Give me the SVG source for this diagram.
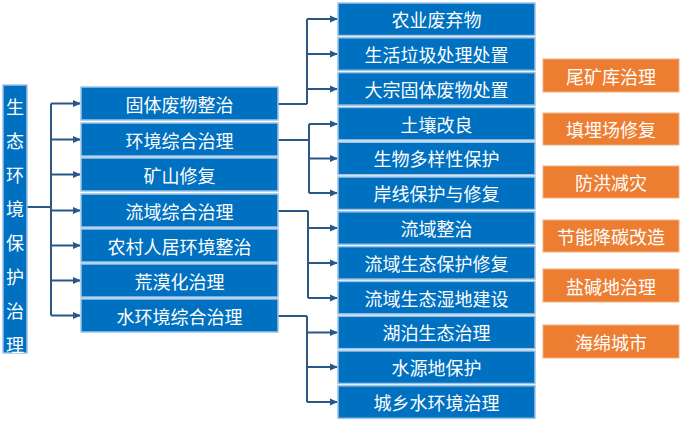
<svg xmlns="http://www.w3.org/2000/svg" width="682" height="424" viewBox="0 0 682 424">
<style>
.b{fill:#0070C0;stroke:#9DC3E6;stroke-width:1.5}
.o{fill:#ED7D31;stroke:#F4B183;stroke-width:1}
.t{fill:#fff;font-family:"Noto Sans CJK SC","Noto Sans CJK JP",sans-serif;font-size:18px;text-anchor:middle;dominant-baseline:central}
.c{fill:none;stroke:#2B5787;stroke-width:2}
.a{fill:none;stroke:#2B5787;stroke-width:2;marker-end:url(#ah)}
</style>
<defs>
<marker id="ah" markerWidth="8" markerHeight="8" refX="7" refY="4" orient="auto" markerUnits="userSpaceOnUse">
<path d="M0,0.5 L8,4 L0,7.5 Z" fill="#2B5787"/>
</marker>
</defs>
<rect width="682" height="424" fill="#fff"/>
<g id="connectors">
<path class="c" d="M27,207 H51 M51,103.5 V315.5"/>
<path class="a" d="M51,103.5 H80"/>
<path class="a" d="M51,139.5 H80"/>
<path class="a" d="M51,174.5 H80"/>
<path class="a" d="M51,210.5 H80"/>
<path class="a" d="M51,245.5 H80"/>
<path class="a" d="M51,280.5 H80"/>
<path class="a" d="M51,315.5 H80"/>
<path class="c" d="M278,104 H307 M307,19 V104"/>
<path class="a" d="M307,19 H337"/>
<path class="a" d="M307,54 H337"/>
<path class="a" d="M307,89 H337"/>
<path class="c" d="M278,140 H309 M309,124 V193"/>
<path class="a" d="M309,124 H337"/>
<path class="a" d="M309,158.5 H337"/>
<path class="a" d="M309,193 H337"/>
<path class="c" d="M278,211 H308 M308,211 V298"/>
<path class="a" d="M308,228 H337"/>
<path class="a" d="M308,263 H337"/>
<path class="a" d="M308,298 H337"/>
<path class="c" d="M278,316 H307 M307,316 V402"/>
<path class="a" d="M307,332.5 H337"/>
<path class="a" d="M307,367 H337"/>
<path class="a" d="M307,402 H337"/>
</g>
<g id="root">
<rect class="b" x="3" y="85" width="24" height="268"/>
<text class="t" x="15" y="106">生</text>
<text class="t" x="15" y="140">态</text>
<text class="t" x="15" y="174">环</text>
<text class="t" x="15" y="208">境</text>
<text class="t" x="15" y="242">保</text>
<text class="t" x="15" y="276">护</text>
<text class="t" x="15" y="310">治</text>
<text class="t" x="15" y="344">理</text>
</g>
<g id="m1"><rect class="b" x="81" y="87" width="197" height="33"/><text class="t" x="179.5" y="103.5">固体废物整治</text></g>
<g id="m2"><rect class="b" x="81" y="123" width="197" height="33"/><text class="t" x="179.5" y="139.5">环境综合治理</text></g>
<g id="m3"><rect class="b" x="81" y="158" width="197" height="33"/><text class="t" x="179.5" y="174.5">矿山修复</text></g>
<g id="m4"><rect class="b" x="81" y="194" width="197" height="33"/><text class="t" x="179.5" y="210.5">流域综合治理</text></g>
<g id="m5"><rect class="b" x="81" y="229" width="197" height="33"/><text class="t" x="179.5" y="245.5">农村人居环境整治</text></g>
<g id="m6"><rect class="b" x="81" y="264" width="197" height="33"/><text class="t" x="179.5" y="280.5">荒漠化治理</text></g>
<g id="m7"><rect class="b" x="81" y="299" width="197" height="33"/><text class="t" x="179.5" y="315.5">水环境综合治理</text></g>
<g id="r1"><rect class="b" x="338" y="3" width="197" height="32.5"/><text class="t" x="436.5" y="19.2">农业废弃物</text></g>
<g id="r2"><rect class="b" x="338" y="37.8" width="197" height="32.5"/><text class="t" x="436.5" y="54">生活垃圾处理处置</text></g>
<g id="r3"><rect class="b" x="338" y="72.6" width="197" height="32.5"/><text class="t" x="436.5" y="88.8">大宗固体废物处置</text></g>
<g id="r4"><rect class="b" x="338" y="107.4" width="197" height="32.5"/><text class="t" x="436.5" y="123.6">土壤改良</text></g>
<g id="r5"><rect class="b" x="338" y="142.2" width="197" height="32.5"/><text class="t" x="436.5" y="158.4">生物多样性保护</text></g>
<g id="r6"><rect class="b" x="338" y="177" width="197" height="32.5"/><text class="t" x="436.5" y="193.2">岸线保护与修复</text></g>
<g id="r7"><rect class="b" x="338" y="211.8" width="197" height="32.5"/><text class="t" x="436.5" y="228">流域整治</text></g>
<g id="r8"><rect class="b" x="338" y="246.6" width="197" height="32.5"/><text class="t" x="436.5" y="262.8">流域生态保护修复</text></g>
<g id="r9"><rect class="b" x="338" y="281.4" width="197" height="32.5"/><text class="t" x="436.5" y="297.6">流域生态湿地建设</text></g>
<g id="r10"><rect class="b" x="338" y="316.2" width="197" height="32.5"/><text class="t" x="436.5" y="332.4">湖泊生态治理</text></g>
<g id="r11"><rect class="b" x="338" y="351" width="197" height="32.5"/><text class="t" x="436.5" y="367.2">水源地保护</text></g>
<g id="r12"><rect class="b" x="338" y="385.8" width="197" height="32.5"/><text class="t" x="436.5" y="402">城乡水环境治理</text></g>
<g id="o1"><rect class="o" x="543" y="59" width="136" height="33"/><text class="t" x="611" y="75.5">尾矿库治理</text></g>
<g id="o2"><rect class="o" x="543" y="113" width="136" height="32"/><text class="t" x="611" y="129">填埋场修复</text></g>
<g id="o3"><rect class="o" x="543" y="166" width="136" height="32"/><text class="t" x="611" y="182">防洪减灾</text></g>
<g id="o4"><rect class="o" x="543" y="220" width="136" height="32"/><text class="t" x="611" y="236">节能降碳改造</text></g>
<g id="o5"><rect class="o" x="543" y="269" width="136" height="33"/><text class="t" x="611" y="285.5">盐碱地治理</text></g>
<g id="o6"><rect class="o" x="543" y="325" width="136" height="33"/><text class="t" x="611" y="341.5">海绵城市</text></g>
</svg>
